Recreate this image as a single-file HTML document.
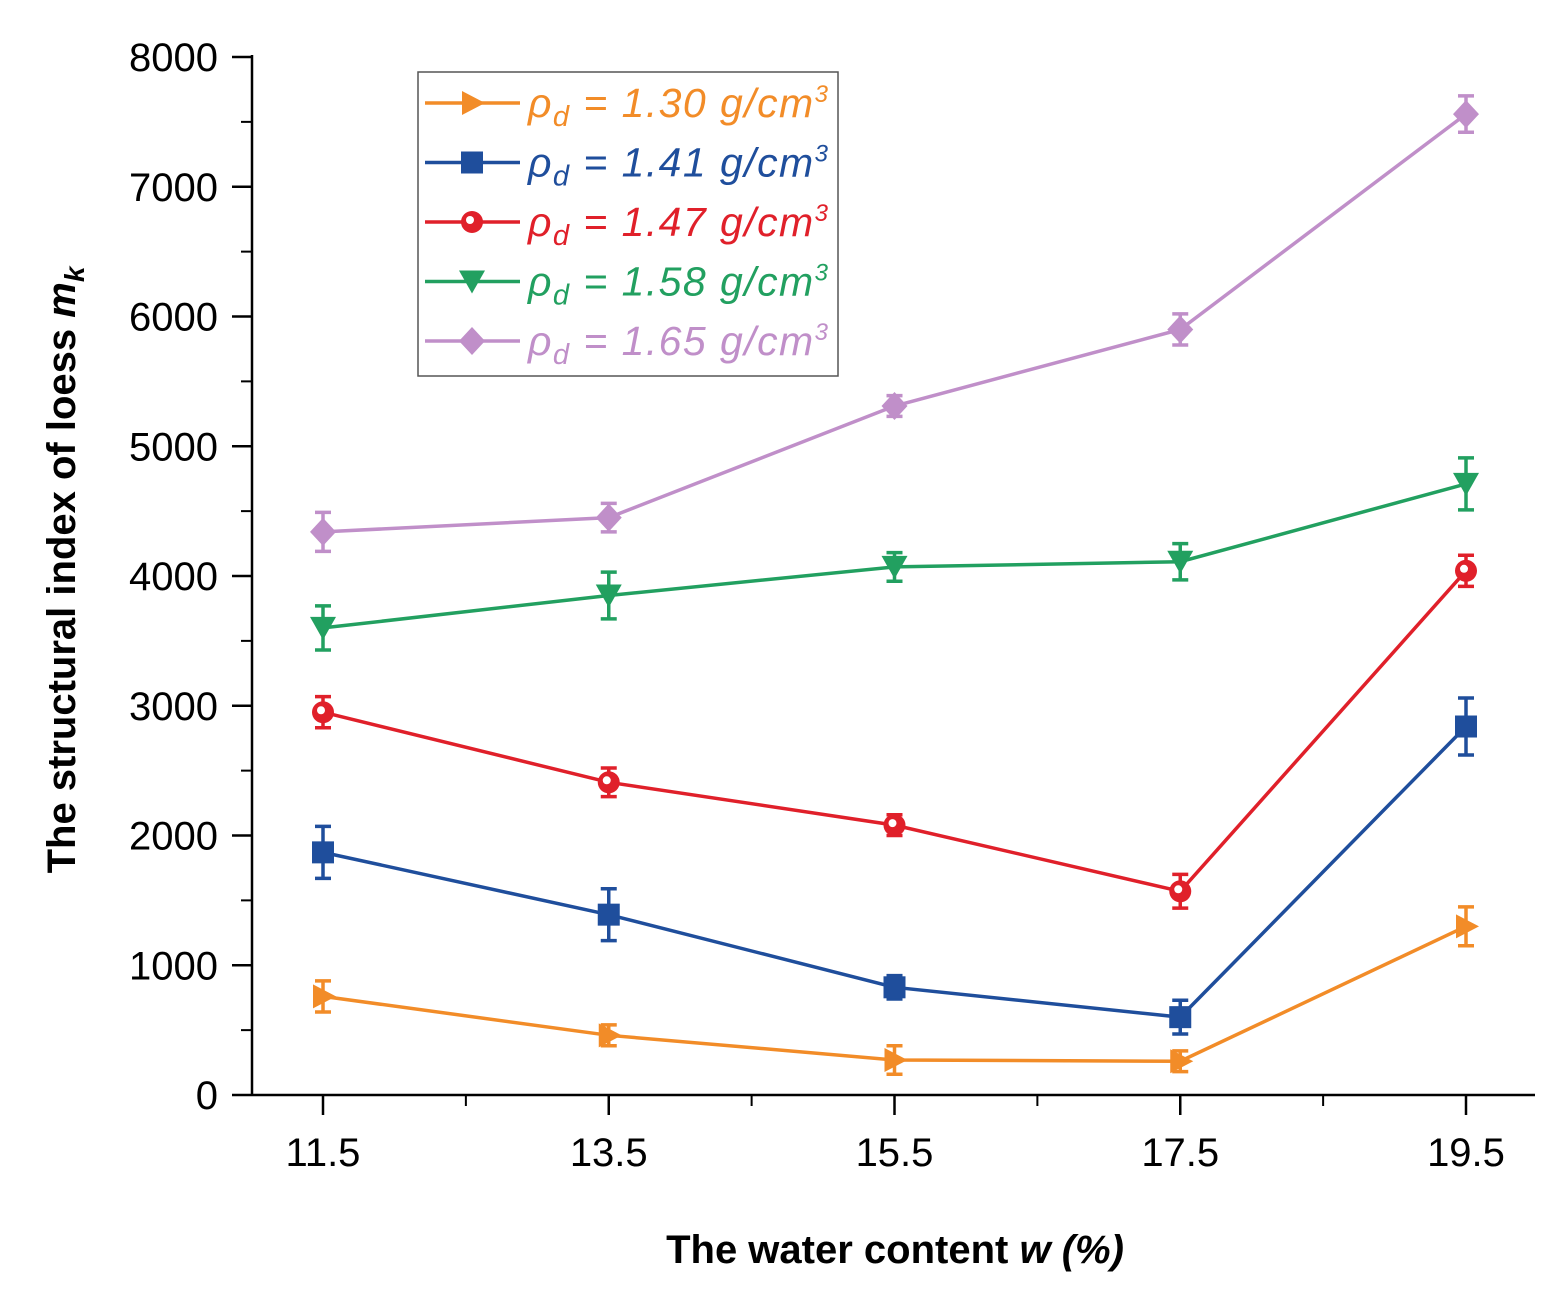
<!DOCTYPE html>
<html><head><meta charset="utf-8"><style>
body{margin:0;background:#fff;}
svg{display:block;font-family:"Liberation Sans",sans-serif;}
</style></head><body>
<svg id="chart" width="1566" height="1301" viewBox="0 0 1566 1301">
<g id="axes"></g><g id="series"></g><g id="legend"></g>
</svg>
<script>
const categories=[11.5,13.5,15.5,17.5,19.5];
const labels=["ρ","ρ","ρ","ρ","ρ"];
const densities=["1.30","1.41","1.47","1.58","1.65"];
const colors=["#f28c28","#1f4e9c","#e0202a","#22a060","#c08fc9"];
const markers=["tri-right","square","circle","tri-down","diamond"];
const s130=[760,460,270,260,1300];
const s141=[1870,1390,830,600,2840];
const s147=[2950,2410,2080,1570,4040];
const s158=[3600,3850,4070,4110,4710];
const s165=[4340,4450,5310,5900,7560];
const e130=[120,80,110,80,150];
const e141=[200,200,90,130,220];
const e147=[120,110,80,130,120];
const e158=[170,180,110,140,200];
const e165=[150,110,80,120,140];
const series=[s130,s141,s147,s158,s165];
const errs=[e130,e141,e147,e158,e165];
const yTicks=[0,1000,2000,3000,4000,5000,6000,7000,8000];
const xTicks=[11.5,13.5,15.5,17.5,19.5];
const NS="http://www.w3.org/2000/svg";
const X=v=>323+(v-11.5)*142.875;
const Y=v=>1095-v*0.12975;
function mk(tag,attrs,parent){const e=document.createElementNS(NS,tag);for(const k in attrs)e.setAttribute(k,attrs[k]);parent.appendChild(e);return e;}
const axes=document.getElementById('axes');
let a=mk('line',{x1:252,y1:1095,x2:1535,y2:1095,stroke:'#000','stroke-width':2.5},axes);

a=mk('line',{x1:252,y1:55,x2:252,y2:1095,stroke:'#000','stroke-width':2.5},axes);

yTicks.forEach(v=>{mk('line',{x1:232,y1:Y(v),x2:252,y2:Y(v),stroke:'#000','stroke-width':2.5},axes);
 if(v<8000)mk('line',{x1:241,y1:Y(v+500),x2:252,y2:Y(v+500),stroke:'#000','stroke-width':2},axes);
 const t=mk('text',{x:218,y:Y(v)+14,'text-anchor':'end','font-size':40},axes);t.textContent=v;
 });
xTicks.forEach(v=>{mk('line',{x1:X(v),y1:1095,x2:X(v),y2:1115,stroke:'#000','stroke-width':2.5},axes);
 mk('line',{x1:X(v+1),y1:1095,x2:X(v+1),y2:1106,stroke:'#000','stroke-width':2},axes);
 const t=mk('text',{x:X(v),y:1166,'text-anchor':'middle','font-size':40},axes);t.textContent=v.toFixed(1);
 });
let t=mk('text',{x:895,y:1263,'text-anchor':'middle','font-size':40,'font-weight':'bold'},axes);
t.innerHTML='The water content <tspan font-style="italic">w (%)</tspan>';

t=mk('text',{x:0,y:0,'text-anchor':'middle','font-size':40,'font-weight':'bold',transform:'translate(75,570) rotate(-90)'},axes);
t.innerHTML='The structural index of loess  <tspan font-style="italic">m</tspan><tspan font-style="italic" font-size="28" dy="9">k</tspan>';

function marker(type,x,y,c,g){
 if(type==='tri-right')return mk('polygon',{points:`${x-10},${y-12} ${x+13},${y} ${x-10},${y+12}`,fill:c},g);
 if(type==='square')return mk('rect',{x:x-11,y:y-11,width:22,height:22,fill:c},g);
 if(type==='circle'){const m=mk('circle',{cx:x,cy:y,r:11,fill:c},g);mk('circle',{cx:x-2,cy:y-2,r:4,fill:'#fff'},g);return m;}
 if(type==='tri-down')return mk('polygon',{points:`${x-13},${y-11} ${x+13},${y-11} ${x},${y+12}`,fill:c},g);
 return mk('polygon',{points:`${x},${y-14} ${x+13},${y} ${x},${y+14} ${x-13},${y}`,fill:c},g);
}
const sg=document.getElementById('series');
series.forEach((s,i)=>{
 const g=mk('g',{},sg);
 const l=mk('polyline',{points:s.map((v,j)=>X(categories[j])+','+Y(v)).join(' '),fill:'none',stroke:colors[i],'stroke-width':3.5},g);
 
 s.forEach((v,j)=>{const x=X(categories[j]),e=errs[i][j];
  const eb=mk('path',{d:`M${x},${Y(v-e)}V${Y(v+e)}M${x-8},${Y(v-e)}H${x+8}M${x-8},${Y(v+e)}H${x+8}`,stroke:colors[i],'stroke-width':3.5,fill:'none'},g);
  
  const m=marker(markers[i],x,Y(v),colors[i],g);
  });
});
const lg=document.getElementById('legend');
const box=mk('rect',{x:418,y:72,width:420,height:304,fill:'#fff',stroke:'#555','stroke-width':1.5},lg);

densities.forEach((d,i)=>{const y=103+i*59.5;
 const g=mk('g',{},lg);
 mk('line',{x1:425,y1:y,x2:520,y2:y,stroke:colors[i],'stroke-width':3.5},g);
 marker(markers[i],472,y,colors[i],g);
 const tt=mk('text',{x:528,y:y+14,'font-size':41,'font-style':'italic',fill:colors[i],textLength:300,lengthAdjust:'spacing'},g);
 tt.innerHTML=labels[i]+'<tspan font-size="29" dy="9">d</tspan><tspan dy="-9"> = '+d+' g/cm</tspan><tspan font-size="24" dy="-15">3</tspan>';
});
</script>
</body></html>
